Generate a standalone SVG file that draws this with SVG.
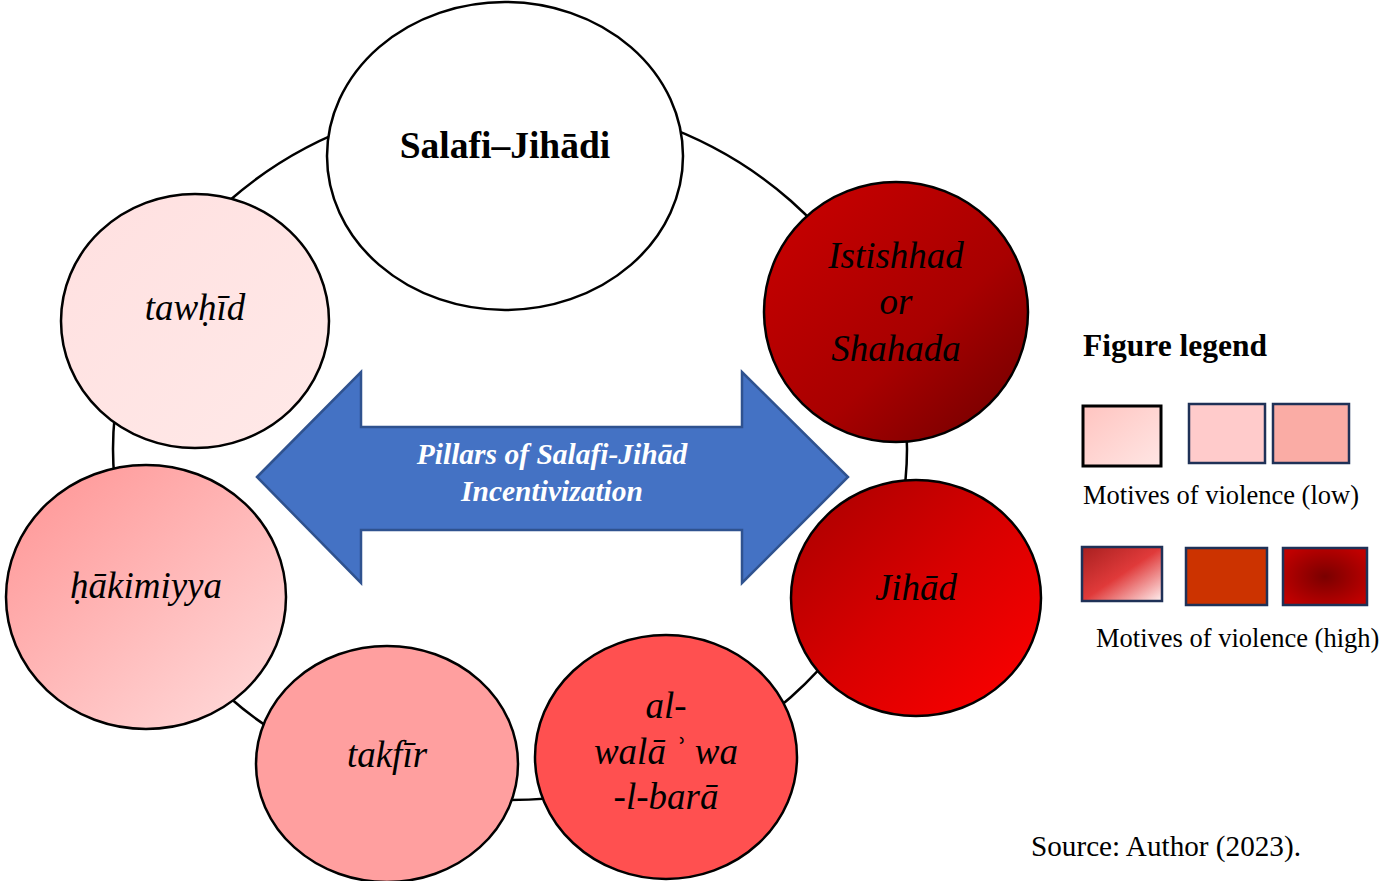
<svg xmlns="http://www.w3.org/2000/svg" width="1379" height="881" viewBox="0 0 1379 881">
<defs>
<linearGradient id="gTaw" x1="0" y1="0" x2="1" y2="1"><stop offset="0" stop-color="#FFE0E0"/><stop offset="1" stop-color="#FFE9E8"/></linearGradient>
<linearGradient id="gIst" x1="0.15" y1="0.1" x2="0.9" y2="0.9"><stop offset="0" stop-color="#C40000"/><stop offset="0.6" stop-color="#A80000"/><stop offset="1" stop-color="#7A0000"/></linearGradient>
<linearGradient id="gHak" x1="0.1" y1="0.1" x2="0.85" y2="0.95"><stop offset="0" stop-color="#FF9A9A"/><stop offset="1" stop-color="#FFD6D6"/></linearGradient>
<linearGradient id="gJih" x1="0.1" y1="0.1" x2="0.9" y2="0.9"><stop offset="0" stop-color="#B00000"/><stop offset="0.5" stop-color="#D80000"/><stop offset="1" stop-color="#F80000"/></linearGradient>
<linearGradient id="gL1" x1="0" y1="0" x2="1" y2="1"><stop offset="0" stop-color="#FFC4C0"/><stop offset="1" stop-color="#FFE6E4"/></linearGradient>
<linearGradient id="gH1" x1="0" y1="0" x2="1" y2="1"><stop offset="0" stop-color="#A82020"/><stop offset="0.5" stop-color="#E03A3A"/><stop offset="1" stop-color="#FFF0F0"/></linearGradient>
<radialGradient id="gH3" cx="0.5" cy="0.5" r="0.6"><stop offset="0" stop-color="#7A0000"/><stop offset="1" stop-color="#C00000"/></radialGradient>
</defs>
<style>
.node{stroke:#000;stroke-width:2.5}
.ring{fill:none;stroke:#000;stroke-width:2.5}
.lbl{font-family:"Liberation Serif","Times New Roman",serif;font-style:italic;font-size:37px;fill:#000;text-anchor:middle}
.box{stroke:#1F3157;stroke-width:2.5}
.leg{font-family:"Liberation Serif","Times New Roman",serif;font-size:26.5px;fill:#000}
.arr{font-family:"Liberation Serif","Times New Roman",serif;font-weight:bold;font-style:italic;font-size:29.5px;fill:#FFFFFF;text-anchor:middle}
</style>
<g id="connectors">
<ellipse class="ring" cx="510" cy="449" rx="397" ry="351"/>
</g>
<g id="node-salafi">
<ellipse class="node" cx="505" cy="156" rx="178" ry="154" fill="#FFFFFF"/>
<text x="505" y="158" text-anchor="middle" font-family="Liberation Serif, serif" font-weight="bold" font-size="37.5" fill="#000">Salafi–Jihādi</text>
</g>
<g id="node-tawhid">
<ellipse class="node" cx="195" cy="321" rx="134" ry="127" fill="url(#gTaw)"/>
<text class="lbl" x="195" y="320">tawḥīd</text>
</g>
<g id="node-istishhad">
<ellipse class="node" cx="896" cy="312" rx="132" ry="130" fill="url(#gIst)"/>
<text class="lbl" x="896" y="268">Istishhad</text>
<text class="lbl" x="896" y="314">or</text>
<text class="lbl" x="896" y="361">Shahada</text>
</g>
<g id="node-hakimiyya">
<ellipse class="node" cx="146" cy="597" rx="140" ry="132" fill="url(#gHak)"/>
<text class="lbl" x="146" y="598">ḥākimiyya</text>
</g>
<g id="node-takfir">
<ellipse class="node" cx="387" cy="764" rx="131" ry="118" fill="#FF9F9F"/>
<text class="lbl" x="387" y="767">takfīr</text>
</g>
<g id="node-wala">
<ellipse class="node" cx="666" cy="757" rx="131" ry="122" fill="#FF5050"/>
<text class="lbl" x="666" y="718">al-</text>
<text class="lbl" x="666" y="764">walā&#x2009;ʾ wa</text>
<text class="lbl" x="666" y="809">-l-barā</text>
</g>
<g id="node-jihad">
<ellipse class="node" cx="916" cy="598" rx="125" ry="118" fill="url(#gJih)"/>
<text class="lbl" x="916" y="600">Jihād</text>
</g>
<g id="node-arrow">
<polygon points="257,477 361,372 361,427 742,427 742,372 848,477 742,583 742,530 361,530 361,583" fill="#4472C4" stroke="#2F528F" stroke-width="2.5"/>
<text class="arr" x="552" y="464">Pillars of Salafi-Jihād</text>
<text class="arr" x="552" y="501">Incentivization</text>
</g>
<g id="legend">
<text x="1083" y="356" font-family="Liberation Serif, serif" font-weight="bold" font-size="31.5" fill="#000">Figure legend</text>
<rect x="1083" y="406" width="78" height="60" fill="url(#gL1)" stroke="#000" stroke-width="3"/>
<rect class="box" x="1189" y="404" width="76" height="59" fill="#FFCBCB"/>
<rect class="box" x="1273" y="404" width="76" height="59" fill="#FAACA5"/>
<text class="leg" x="1083" y="504">Motives of violence (low)</text>
<rect class="box" x="1082" y="547" width="80" height="54" fill="url(#gH1)"/>
<rect class="box" x="1186" y="548" width="81" height="57" fill="#CC3300"/>
<rect class="box" x="1283" y="548" width="84" height="57" fill="url(#gH3)"/>
<text class="leg" x="1096" y="647">Motives of violence (high)</text>
</g>
<g id="source">
<text x="1031" y="856" font-family="Liberation Serif, serif" font-size="29.2" fill="#000">Source: Author (2023).</text>
</g>
</svg>
